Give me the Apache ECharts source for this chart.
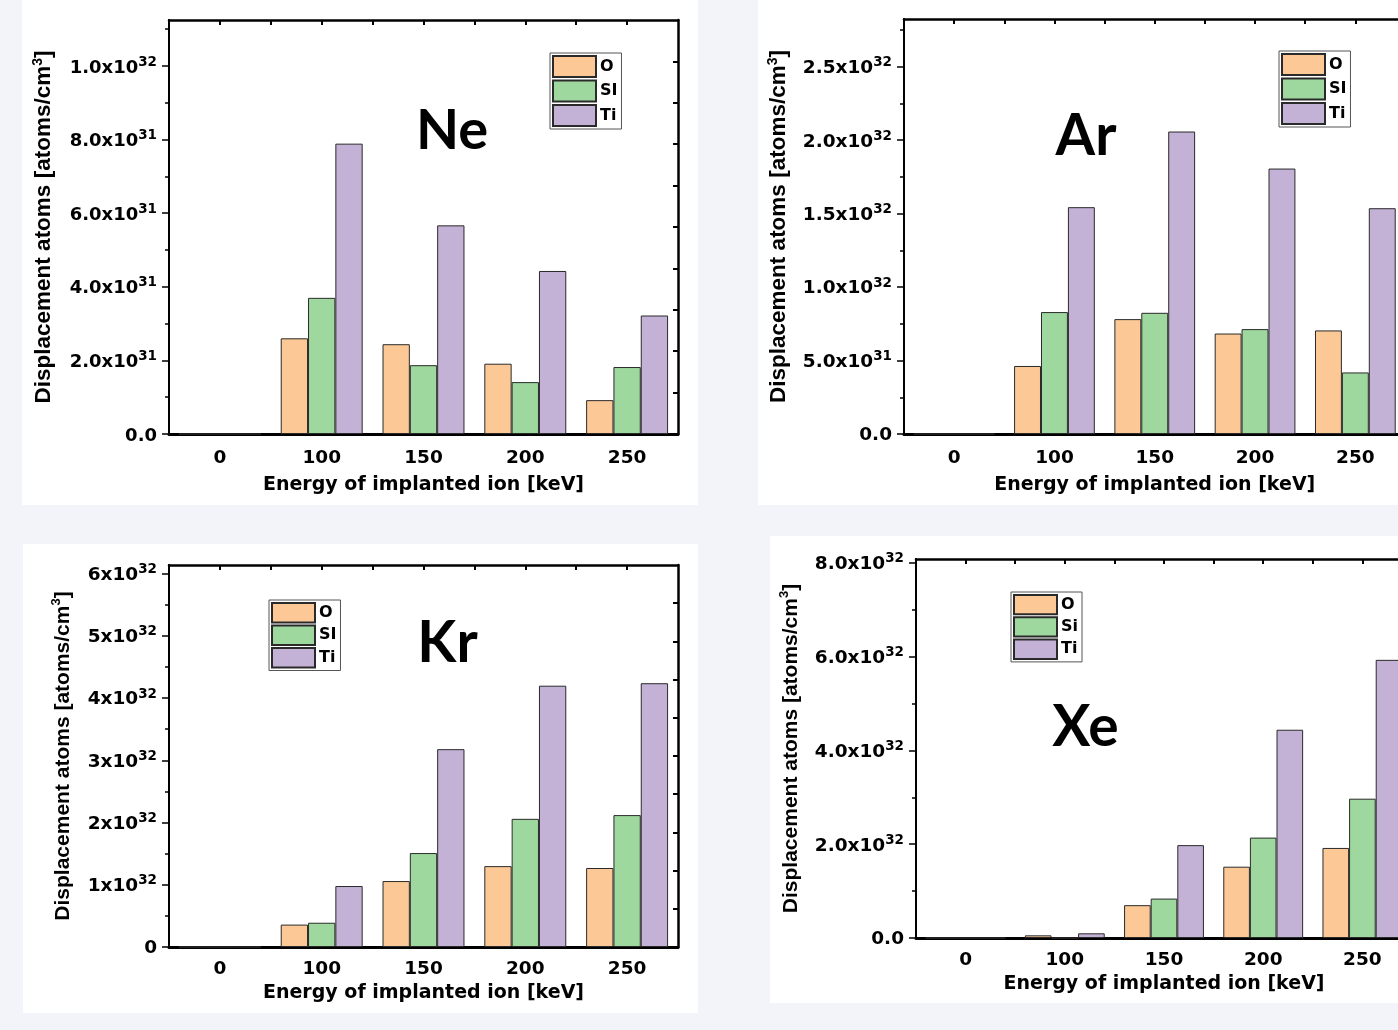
<!DOCTYPE html>
<html><head><meta charset="utf-8">
<script src="https://cdn.jsdelivr.net/npm/echarts@6/dist/echarts.min.js"></script>
<style>
html,body{margin:0;padding:0;width:1398px;height:1030px;overflow:hidden;background:#f3f4f9;}
.panel{position:absolute;background:#ffffff;}
</style></head><body>
<div id="ne" class="panel" style="left:22px;top:0px;width:676px;height:505px"></div>
<div id="ar" class="panel" style="left:758px;top:0px;width:720px;height:505px"></div>
<div id="kr" class="panel" style="left:23px;top:544px;width:675px;height:469px"></div>
<div id="xe" class="panel" style="left:770px;top:536px;width:720px;height:467px"></div>
<script>
// ---------- data ----------
const categories = ['0', '100', '150', '200', '250'];
const seriesNames = ['O', 'SI', 'Ti'];
const seriesNamesXe = ['O', 'Si', 'Ti'];

// Ne
const neO  = [0, 2.60e31, 2.44e31, 1.91e31, 0.92e31];
const neSi = [0, 3.70e31, 1.87e31, 1.41e31, 1.82e31];
const neTi = [0, 7.89e31, 5.67e31, 4.43e31, 3.22e31];
const neTicks = [0, 2e31, 4e31, 6e31, 8e31, 1e32];
const neTickLabels = ['0.0', '2.0x10^31', '4.0x10^31', '6.0x10^31', '8.0x10^31', '1.0x10^32'];
const neMinorTicks = [1e31, 3e31, 5e31, 7e31, 9e31, 1.1e32];
const neMax = 1.125e32;

// Ar
const arO  = [0, 4.63e31, 7.82e31, 6.84e31, 7.05e31];
const arSi = [0, 8.30e31, 8.25e31, 7.14e31, 4.19e31];
const arTi = [0, 1.544e32, 2.059e32, 1.807e32, 1.537e32];
const arTicks = [0, 5e31, 1e32, 1.5e32, 2e32, 2.5e32];
const arTickLabels = ['0.0', '5.0x10^31', '1.0x10^32', '1.5x10^32', '2.0x10^32', '2.5x10^32'];
const arMinorTicks = [2.5e31, 7.5e31, 1.25e32, 1.75e32, 2.25e32, 2.75e32];
const arMax = 2.825e32;

// Kr
const krO  = [0, 0.36e32, 1.06e32, 1.30e32, 1.27e32];
const krSi = [0, 0.39e32, 1.51e32, 2.06e32, 2.12e32];
const krTi = [0, 0.98e32, 3.18e32, 4.20e32, 4.24e32];
const krTicks = [0, 1e32, 2e32, 3e32, 4e32, 5e32, 6e32];
const krTickLabels = ['0', '1x10^32', '2x10^32', '3x10^32', '4x10^32', '5x10^32', '6x10^32'];
const krMinorTicks = [0.5e32, 1.5e32, 2.5e32, 3.5e32, 4.5e32, 5.5e32];
const krMax = 6.14e32;

// Xe
const xeO  = [0, 0.057e32, 0.70e32, 1.52e32, 1.92e32];
const xeSi = [0, 0, 0.84e32, 2.14e32, 2.97e32];
const xeTi = [0, 0.10e32, 1.98e32, 4.44e32, 5.93e32];
const xeTicks = [0, 2e32, 4e32, 6e32, 8e32];
const xeTickLabels = ['0.0', '2.0x10^32', '4.0x10^32', '6.0x10^32', '8.0x10^32'];
const xeMinorTicks = [1e32, 3e32, 5e32, 7e32];
const xeMax = 8.08e32;

// ---------- style ----------
const COLORS = ['#fcc996', '#9ed89e', '#c3b2d6'];
const TICKFONT = 'DejaVu Sans';
const frameInner = [1, 2, 3, 4, 5, 6, 7, 8, 9];

function supLabel(s) {
  const p = s.split('^');
  if (p.length === 1) return '{m|' + p[0] + '}';
  return '{m|' + p[0] + '}{e|' + p[1] + '}';
}

function makeOption(c) {
  const fmt = function (v) {
    for (let i = 0; i < c.ticks.length; i++) {
      if (Math.abs(c.ticks[i] - v) < c.max * 1e-6) return supLabel(c.labels[i]);
    }
    return '';
  };
  const bar = (name, data, color) => ({
    type: 'bar', name: name, data: data, xAxisIndex: 0, yAxisIndex: 0,
    barGap: '0%', barCategoryGap: '19.5%',
    itemStyle: { color: color, borderColor: '#2a2a2a', borderWidth: 1 },
    emphasis: { disabled: true }, silent: true
  });
  const black = '#000';
  return {
    animation: false,
    grid: { left: c.grid[0], top: c.grid[1], width: c.grid[2], height: c.grid[3], containLabel: false },
    legend: {
      orient: 'vertical', left: c.legend[0], top: c.legend[1], icon: 'rect',
      itemWidth: 43, itemHeight: c.legend[2], itemGap: c.legend[3],
      padding: [2, 4, 2, 2], borderColor: '#555', borderWidth: 1, backgroundColor: '#fff',
      selectedMode: false,
      textStyle: { fontFamily: TICKFONT, fontWeight: 'bold', fontSize: 16, color: '#000', lineHeight: 18, padding: [0, 0, 0, -1] },
      data: c.names
    },
    xAxis: [
      {
        type: 'category', data: categories, position: 'bottom',
        axisLine: { onZero: false, lineStyle: { color: black, width: 3 } },
        axisTick: { alignWithLabel: true, length: 6, lineStyle: { color: black, width: 2 } },
        axisLabel: { margin: c.xmargin, color: black, fontFamily: TICKFONT, fontWeight: 'bold', fontSize: c.xfs },
        name: 'Energy of implanted ion [keV]', nameLocation: 'middle', nameGap: c.xgap,
        nameTextStyle: { color: black, fontFamily: TICKFONT, fontWeight: 'bold', fontSize: c.xtfs },
        splitLine: { show: false }
      },
      {
        type: 'category', data: categories, position: 'bottom',
        axisLine: { show: false, onZero: false },
        axisTick: { length: 4, lineStyle: { color: black, width: 2 } },
        axisLabel: { show: false }, splitLine: { show: false }
      },
      {
        type: 'value', min: 0, max: 10, position: 'top',
        axisLine: { onZero: false, lineStyle: { color: black, width: 2.5 } },
        axisTick: { inside: true, length: 5, customValues: frameInner, lineStyle: { color: black, width: 2 } },
        axisLabel: { show: false }, splitLine: { show: false }
      }
    ],
    yAxis: [
      {
        type: 'value', min: 0, max: c.max, position: 'left',
        axisLine: { show: true, onZero: false, lineStyle: { color: black, width: 2 } },
        axisTick: { show: true, length: 7, customValues: c.ticks, lineStyle: { color: black, width: 1.5 } },
        axisLabel: {
          customValues: c.ticks, margin: 12, formatter: fmt,
          rich: {
            m: { fontFamily: TICKFONT, fontWeight: 'bold', fontSize: c.yfs, color: black, lineHeight: 22, verticalAlign: 'bottom' },
            e: { fontFamily: TICKFONT, fontWeight: 'bold', fontSize: c.efs, color: black, lineHeight: 12, verticalAlign: 'top' }
          }
        },
        name: '{a|Displacement atoms [atoms/cm}{s|3}{a|]}', nameLocation: 'middle', nameGap: c.ygap,
        nameTextStyle: {
          rich: {
            a: { fontFamily: 'Liberation Sans', fontWeight: 'bold', fontSize: c.ytfs, color: black, lineHeight: 26 },
            s: { fontFamily: 'Liberation Sans', fontWeight: 'bold', fontSize: Math.round(c.ytfs * 0.62), color: black, lineHeight: 14, verticalAlign: 'top' }
          }
        },
        splitLine: { show: false }
      },
      {
        type: 'value', min: 0, max: c.max, position: 'left',
        axisLine: { show: true, onZero: false, lineStyle: { color: black, width: 2 } },
        axisTick: { show: true, length: 4, customValues: c.minor, lineStyle: { color: black, width: 1.5 } },
        axisLabel: { show: false }, splitLine: { show: false }
      },
      {
        type: 'value', min: 0, max: 10, position: 'right',
        axisLine: { show: true, onZero: false, lineStyle: { color: black, width: 2.5 } },
        axisTick: { show: true, inside: true, length: 5, customValues: frameInner, lineStyle: { color: black, width: 2 } },
        axisLabel: { show: false }, splitLine: { show: false }
      }
    ],
    graphic: [{
      type: 'text', x: c.big[1], y: c.big[2], silent: true,
      style: { text: c.big[0], fontFamily: 'Lato', fontWeight: 'bold', fontSize: c.big[3], fill: '#000', align: 'center', verticalAlign: 'middle' }
    }],
    series: [bar(c.names[0], c.O, COLORS[0]), bar(c.names[1], c.Si, COLORS[1]), bar(c.names[2], c.Ti, COLORS[2])]
  };
}

const panels = [
  { id: 'ne', O: neO, Si: neSi, Ti: neTi, ticks: neTicks, labels: neTickLabels, minor: neMinorTicks, max: neMax,
    names: seriesNames, grid: [147, 20, 509, 414], legend: [528, 53, 21, 1.5],
    xfs: 18.5, xmargin: 15, xtfs: 19, xgap: 42, yfs: 18, efs: 13.5, ytfs: 22.5, ygap: 112, big: ['Ne', 430, 131, 56] },
  { id: 'ar', O: arO, Si: arSi, Ti: arTi, ticks: arTicks, labels: arTickLabels, minor: arMinorTicks, max: arMax,
    names: seriesNames, grid: [144, 19, 503.5, 415], legend: [521, 51, 21, 1.5],
    xfs: 18.5, xmargin: 15, xtfs: 19, xgap: 42, yfs: 18.5, efs: 13.5, ytfs: 22.5, ygap: 112, big: ['Ar', 328, 137, 57] },
  { id: 'kr', O: krO, Si: krSi, Ti: krTi, ticks: krTicks, labels: krTickLabels, minor: krMinorTicks, max: krMax,
    names: seriesNames, grid: [146, 21, 509, 382], legend: [246, 56, 19.5, 1],
    xfs: 18.5, xmargin: 13, xtfs: 19, xgap: 37, yfs: 18.5, efs: 13.5, ytfs: 21, ygap: 93, big: ['Kr', 424.5, 100, 57] },
  { id: 'xe', O: xeO, Si: xeSi, Ti: xeTi, ticks: xeTicks, labels: xeTickLabels, minor: xeMinorTicks, max: xeMax,
    names: seriesNamesXe, grid: [143.5, 23, 498.5, 379], legend: [241, 56, 19.3, 1],
    xfs: 18.5, xmargin: 13, xtfs: 19, xgap: 36, yfs: 18.5, efs: 13.5, ytfs: 21, ygap: 112, big: ['Xe', 315.5, 192, 57] }
];

panels.forEach(function (p) {
  const chart = echarts.init(document.getElementById(p.id), null, { renderer: 'canvas' });
  chart.setOption(makeOption(p));
});
</script>
</body></html>
